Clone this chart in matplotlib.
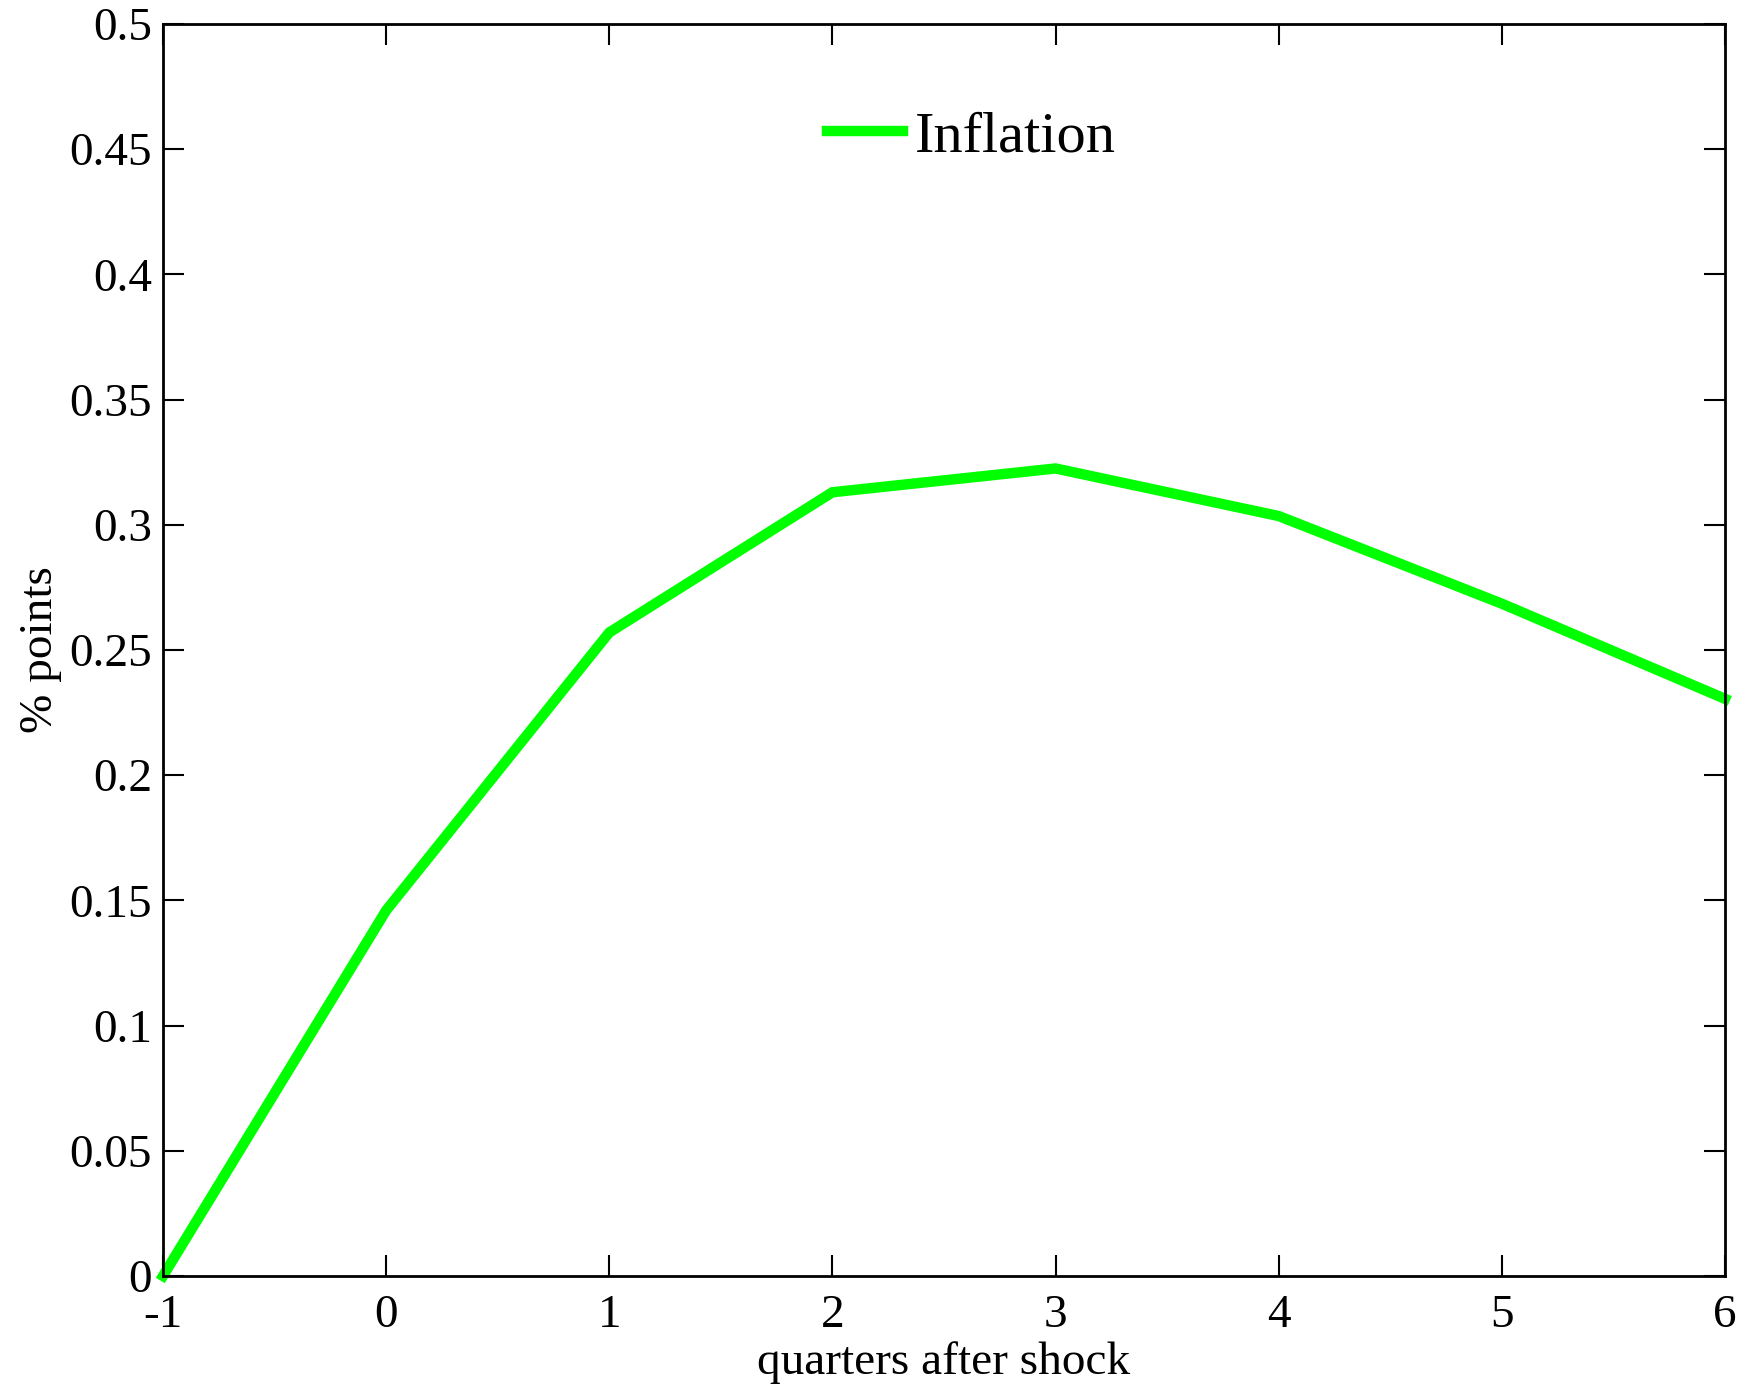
import matplotlib
matplotlib.use("Agg")
import matplotlib.pyplot as plt

quarters = [-1, 0, 1, 2, 3, 4, 5, 6]
inflation = [0.0, 0.146, 0.257, 0.313, 0.3225, 0.3035, 0.2685, 0.2305]
xticks = [-1, 0, 1, 2, 3, 4, 5, 6]
yticks = [0, 0.05, 0.1, 0.15, 0.2, 0.25, 0.3, 0.35, 0.4, 0.45, 0.5]
ytick_labels = ["0", "0.05", "0.1", "0.15", "0.2", "0.25", "0.3", "0.35", "0.4", "0.45", "0.5"]

plt.rcParams['font.family'] = ['Liberation Serif', 'DejaVu Serif']

fig = plt.figure(figsize=(17.54, 13.87), dpi=100)
ax = fig.add_axes([163/1754, 1 - 1276/1387, (1725-163)/1754, (1276-24)/1387])

ax.plot(quarters, inflation, color=(0, 1, 0), linewidth=7.5, label='Inflation',
        solid_joinstyle='miter', clip_on=False)

ax.set_xlim(-1, 6)
ax.set_ylim(0, 0.5)
ax.set_xticks(xticks)
ax.set_xticklabels([str(t) for t in xticks])
ax.set_yticks(yticks)
ax.set_yticklabels(ytick_labels)

ax.tick_params(direction='in', length=15, width=1.5, top=True, right=True,
               labelsize=34, color='black')
ax.tick_params(axis='x', pad=13)
ax.tick_params(axis='y', pad=8)
for s in ax.spines.values():
    s.set_linewidth(2)

ax.set_xlabel('quarters after shock', fontsize=34, labelpad=3)
ax.set_ylabel('% points', fontsize=34, labelpad=5)

ax.legend(loc='center', bbox_to_anchor=((971.5-163)/1562, (1276-137)/1252),
          frameon=False, fontsize=42, handlelength=1.3, handletextpad=0.2)

fig.savefig('out.png', dpi=100)
